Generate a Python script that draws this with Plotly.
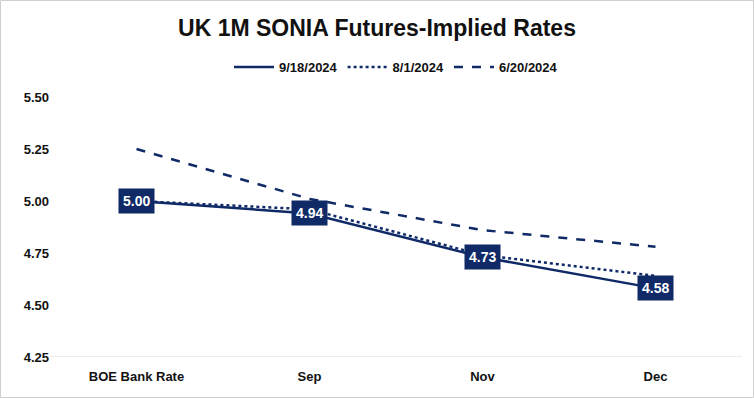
import plotly.graph_objects as go

categories = ["BOE Bank Rate", "Sep", "Nov", "Dec"]
s_0918 = [5.00, 4.94, 4.73, 4.58]
s_0801 = [5.00, 4.96, 4.74, 4.64]
s_0620 = [5.25, 5.01, 4.86, 4.78]
y_ticks = [4.25, 4.50, 4.75, 5.00, 5.25, 5.50]

NAVY = "#0f2a66"
FONT = "Liberation Sans"

fig = go.Figure()
fig.add_trace(go.Scatter(x=categories, y=s_0918, name="<b>9/18/2024</b>", mode="lines",
                         line=dict(color=NAVY, width=2.5, dash="solid")))
fig.add_trace(go.Scatter(x=categories, y=s_0801, name="<b>8/1/2024</b>", mode="lines",
                         line=dict(color=NAVY, width=2.5, dash="dot")))
fig.add_trace(go.Scatter(x=categories, y=s_0620, name="<b>6/20/2024</b>", mode="lines",
                         line=dict(color=NAVY, width=2.5, dash="dash")))

for c, v in zip(categories, s_0918):
    fig.add_annotation(x=c, y=v, text=f"<b>{v:.2f}</b>", showarrow=False,
                       font=dict(color="white", size=14, family=FONT),
                       bgcolor=NAVY, borderpad=4)

fig.add_shape(type="rect", xref="paper", yref="paper", x0=-49.5/692, x1=1+11.5/692,
              y0=-40.5/260, y1=1+96.5/260, line=dict(color="#cfcfcf", width=1))

fig.update_layout(
    width=754, height=398,
    margin=dict(l=50, r=12, t=97, b=41),
    paper_bgcolor="white", plot_bgcolor="white",
    title=dict(text="<b>UK 1M SONIA Futures-Implied Rates</b>", x=0.5, xanchor="center",
               y=1 - 28/398, yanchor="middle", font=dict(size=23, color="#111111", family=FONT)),
    legend=dict(orientation="h", x=0.5, xanchor="center", y=1.0 + 30/260, yanchor="middle",
                font=dict(size=13, color="#111111", family=FONT), itemwidth=40,
                traceorder="normal"),
    font=dict(family=FONT, color="#111111"),
    showlegend=True,
)
fig.update_xaxes(type="category", range=[-0.5, 3.5], showgrid=False, showline=False,
                 ticks="", tickfont=dict(size=13, family=FONT, color="#111111"),
                 ticklabelstandoff=10, zeroline=False,
                 tickvals=categories, ticktext=[f"<b>{c}</b>" for c in categories])
fig.update_yaxes(range=[4.25, 5.5], tickvals=y_ticks,
                 ticktext=[f"<b>{t:.2f}</b>" for t in y_ticks], showgrid=False,
                 zeroline=False, showline=False, ticks="",
                 tickfont=dict(size=13, family=FONT, color="#111111"))
fig.add_shape(type="line", xref="paper", yref="y", x0=0, x1=1, y0=4.25, y1=4.25,
              line=dict(color="#d9d9d9", width=1), layer="below")
fig.write_html("out.html", config={"displayModeBar": False},
               post_script="document.body.style.margin='0';")
